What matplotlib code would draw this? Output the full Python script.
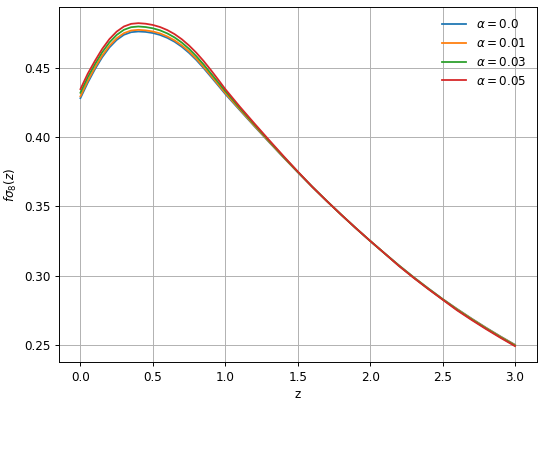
import matplotlib

matplotlib.use('Agg')
import matplotlib.pyplot as plt

# redshift samples
z = [0.0, 0.05, 0.1, 0.15, 0.2, 0.25, 0.3, 0.35, 0.4, 0.45, 0.5,
     0.55, 0.6, 0.65, 0.7, 0.75, 0.8, 0.85, 0.9, 0.95, 1.0,
     1.1, 1.2, 1.3, 1.4, 1.5, 1.6, 1.7, 1.8, 1.9,
     2.0, 2.1, 2.2, 2.3, 2.4, 2.5, 2.6, 2.7, 2.8, 2.9, 3.0]

fs8_a000 = [0.4280, 0.4390, 0.4488, 0.4574, 0.4645, 0.4699, 0.4736, 0.4755, 0.4760, 0.4757, 0.4749,
            0.4735, 0.4714, 0.4686, 0.4650, 0.4606, 0.4555, 0.4497, 0.4435, 0.4373, 0.4310,
            0.4194, 0.4079, 0.3966, 0.3855, 0.3747, 0.3642, 0.3540, 0.3441, 0.3345,
            0.3252, 0.3162, 0.3075, 0.2991, 0.2911, 0.2834, 0.2762, 0.2693, 0.2627, 0.2564, 0.2504]
fs8_a001 = [0.4293, 0.4403, 0.4500, 0.4586, 0.4657, 0.4711, 0.4748, 0.4767, 0.4772, 0.4768, 0.4760,
            0.4746, 0.4724, 0.4696, 0.4660, 0.4616, 0.4564, 0.4506, 0.4443, 0.4380, 0.4317,
            0.4199, 0.4083, 0.3969, 0.3857, 0.3748, 0.3642, 0.3540, 0.3441, 0.3345,
            0.3252, 0.3162, 0.3074, 0.2990, 0.2910, 0.2833, 0.2760, 0.2691, 0.2625, 0.2562, 0.2502]
fs8_a003 = [0.4319, 0.4429, 0.4524, 0.4610, 0.4681, 0.4735, 0.4772, 0.4791, 0.4796, 0.4792, 0.4783,
            0.4768, 0.4746, 0.4717, 0.4680, 0.4635, 0.4582, 0.4523, 0.4459, 0.4395, 0.4331,
            0.4209, 0.4091, 0.3975, 0.3861, 0.3750, 0.3642, 0.3540, 0.3441, 0.3345,
            0.3252, 0.3162, 0.3072, 0.2988, 0.2908, 0.2831, 0.2756, 0.2687, 0.2621, 0.2558, 0.2498]
fs8_a005 = [0.4345, 0.4455, 0.4548, 0.4634, 0.4705, 0.4759, 0.4796, 0.4815, 0.4820, 0.4816, 0.4807,
            0.4792, 0.4770, 0.4741, 0.4704, 0.4659, 0.4607, 0.4548, 0.4483, 0.4415, 0.4345,
            0.4219, 0.4099, 0.3981, 0.3865, 0.3752, 0.3642, 0.3540, 0.3441, 0.3345,
            0.3252, 0.3162, 0.3070, 0.2986, 0.2906, 0.2829, 0.2752, 0.2683, 0.2617, 0.2554, 0.2494]

alphas = ["0.0", "0.01", "0.03", "0.05"]
series = [fs8_a000, fs8_a001, fs8_a003, fs8_a005]

DPI = 86


def main():
    fig = plt.figure(figsize=(544 / DPI, 461 / DPI), dpi=DPI)
    ax = fig.add_axes([0.1079, 0.2141, 0.8787, 0.7707])

    for a, vals in zip(alphas, series):
        ax.plot(z, vals, label=r"$\alpha = %s$" % a)

    ax.set_xlabel("z")
    ax.set_ylabel(r"$f\sigma_8(z)$")
    ax.grid(True)
    ax.legend(frameon=False, loc="upper right")

    fig.savefig("out.png", dpi=DPI)
    plt.close(fig)


if __name__ == "__main__":
    main()
